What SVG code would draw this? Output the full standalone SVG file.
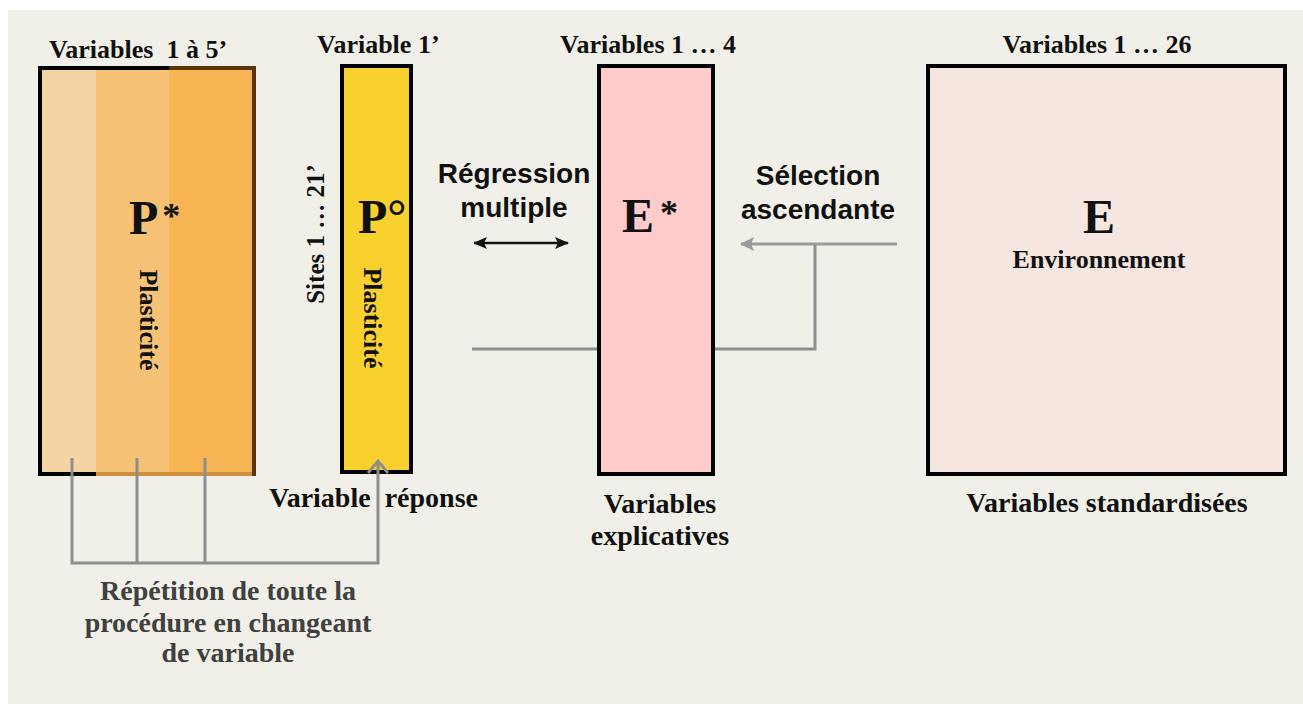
<svg xmlns="http://www.w3.org/2000/svg" width="1303" height="704" viewBox="0 0 1303 704">
<defs>
<style>
.ser{font-family:"Liberation Serif","Times New Roman",serif;font-weight:bold;fill:#111}
.serr{font-family:"Liberation Serif","Times New Roman",serif;font-weight:bold;fill:#111}
.sans{font-family:"Liberation Sans",Arial,sans-serif;font-weight:bold;fill:#111}
.box{stroke:#000;stroke-width:4}
.gl{fill:none;stroke:#8e8e8e;stroke-width:3}
.mid{text-anchor:middle}
</style>
<marker id="ab" viewBox="0 0 14 12" refX="13" refY="6" markerWidth="14" markerHeight="12" markerUnits="userSpaceOnUse" orient="auto-start-reverse">
<path d="M0,0 L14,6 L0,12 L3,6 Z" fill="#111"/>
</marker>
<marker id="ag" viewBox="0 0 14 14" refX="13" refY="7" markerWidth="14" markerHeight="14" markerUnits="userSpaceOnUse" orient="auto">
<path d="M0,0 L14,7 L0,14 L3,7 Z" fill="#9a9a9a"/>
</marker>
</defs>
<rect x="0" y="0" width="1303" height="704" fill="#ffffff"/>
<rect x="8" y="10" width="1295" height="694" fill="#f0f0e8"/>

<g id="node-pstar">
<rect class="box" x="40" y="68" width="214" height="406" fill="#f7b54f"/>
<rect x="42" y="70" width="54" height="402" fill="#f4d4a2"/>
<rect x="96" y="70" width="73" height="402" fill="#f5c276"/>
<rect x="169" y="70" width="85" height="402" fill="#f6b452"/>
<path d="M96,474 L256,474" stroke="#cf8f3e" stroke-width="4"/>
<path d="M169,68 L254,68 L254,476" fill="none" stroke="#5a3508" stroke-width="4"/>
<text class="ser" x="129" y="234" font-size="48">P<tspan font-size="36" dx="4" dy="-6">*</tspan></text>
<text class="serr mid" font-size="26" transform="translate(140,320) rotate(90)">Plasticité</text>
<text class="ser mid" x="138" y="58" font-size="26" xml:space="preserve">Variables  1 à 5’</text>
</g>

<g id="node-pdeg">
<rect class="box" x="342" y="66" width="69" height="406" fill="#f9d12f"/>
<text class="ser" x="358" y="233" font-size="48">P°</text>
<text class="serr mid" font-size="26" transform="translate(364,318) rotate(90)">Plasticité</text>
<text class="ser" x="317" y="53" font-size="26">Variable 1’</text>
<text class="serr mid" font-size="25" transform="translate(324,234) rotate(-90)">Sites 1 … 21’</text>
<text class="ser" x="269" y="507" font-size="28" xml:space="preserve">Variable  réponse</text>
</g>

<g id="node-estar">
<rect class="box" x="599" y="66" width="114" height="408" fill="#ffcbcb"/>
<text class="ser" x="622" y="232" font-size="48">E<tspan font-size="36" dx="6" dy="-7">*</tspan></text>
<text class="ser mid" x="648" y="53" font-size="26">Variables 1 … 4</text>
<text class="ser mid" x="660" y="513" font-size="28">Variables</text>
<text class="ser mid" x="660" y="545" font-size="28">explicatives</text>
</g>

<g id="node-e">
<rect class="box" x="928" y="66" width="357" height="408" fill="#f5e6e0"/>
<text class="ser mid" x="1099" y="233" font-size="48">E</text>
<text class="ser mid" x="1099" y="268" font-size="26">Environnement</text>
<text class="ser mid" x="1097" y="53" font-size="26">Variables 1 … 26</text>
<text class="ser mid" x="1107" y="512" font-size="28">Variables standardisées</text>
</g>

<g id="connectors">
<line x1="474" y1="243" x2="568" y2="243" stroke="#111" stroke-width="2.5" marker-start="url(#ab)" marker-end="url(#ab)"/>
<text class="sans mid" x="514" y="183" font-size="28">Régression</text>
<text class="sans mid" x="514" y="217" font-size="28">multiple</text>
<line x1="897" y1="244" x2="741" y2="244" stroke="#9a9a9a" stroke-width="3" marker-end="url(#ag)"/>
<text class="sans mid" x="818" y="185" font-size="28">Sélection</text>
<text class="sans mid" x="818" y="219" font-size="28">ascendante</text>
<polyline class="gl" points="815,245 815,349 715,349"/>
<line class="gl" x1="472" y1="349" x2="597" y2="349"/>
<polyline class="gl" points="72,458 72,563 378,563 378,462"/>
<line class="gl" x1="137" y1="458" x2="137" y2="563"/>
<line class="gl" x1="205" y1="458" x2="205" y2="563"/>
<polyline class="gl" points="368,473 378,461 388,473"/>
<text class="ser mid" x="228" y="600" font-size="28" style="fill:#404040">Répétition de toute la</text>
<text class="ser mid" x="228" y="632" font-size="28" style="fill:#404040">procédure en changeant</text>
<text class="ser mid" x="228" y="662" font-size="28" style="fill:#404040">de variable</text>
</g>
</svg>
